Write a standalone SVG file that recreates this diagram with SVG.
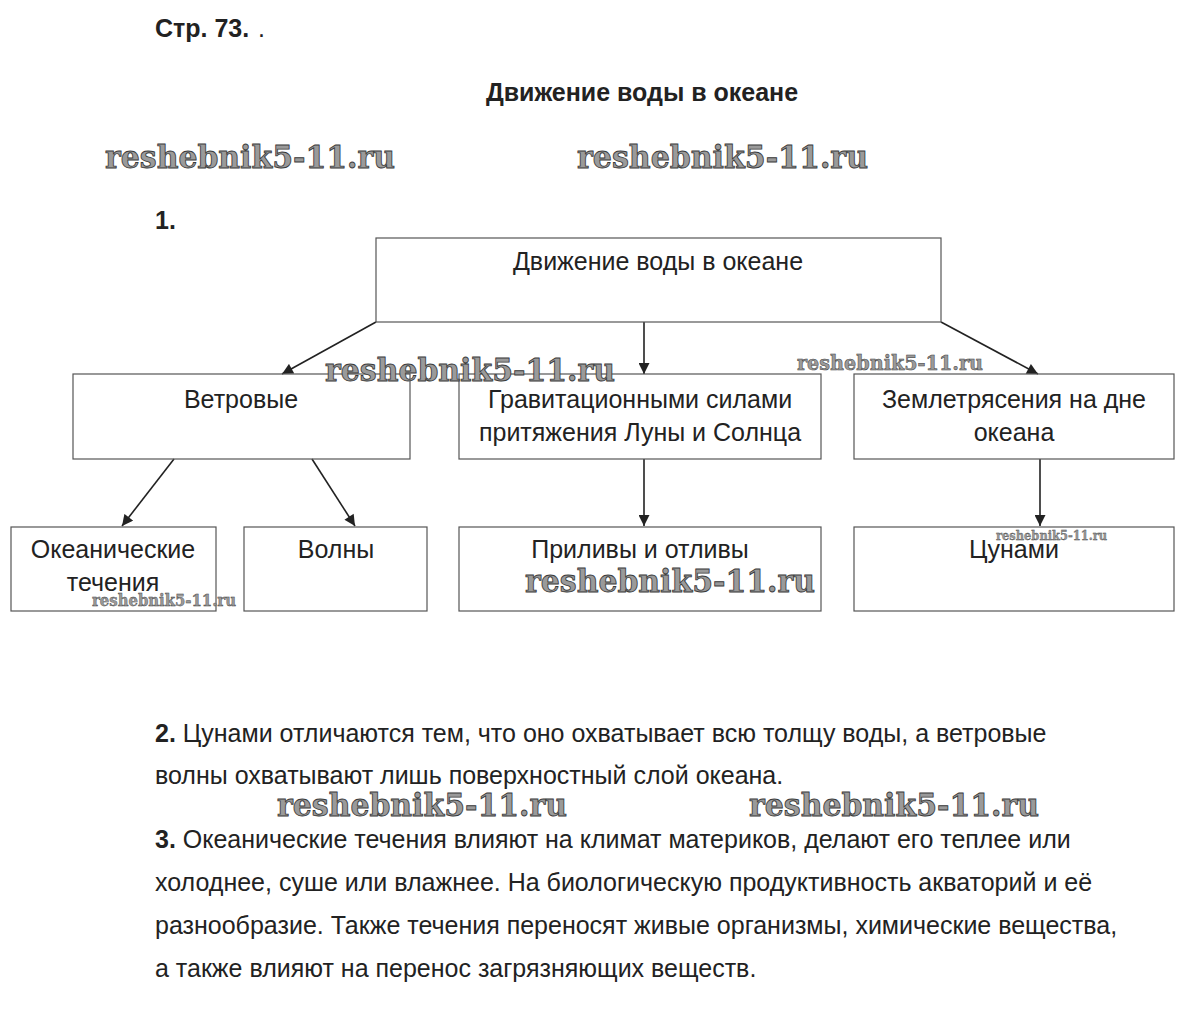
<svg xmlns="http://www.w3.org/2000/svg" width="1191" height="1033" viewBox="0 0 1191 1033">
<style>
.t{font-family:"Liberation Sans",Arial,sans-serif;fill:#222;font-size:25px}
.b{font-weight:bold}
.c{text-anchor:middle}
.box{fill:none;stroke:#555;stroke-width:1.2}
.wm{font-family:"DejaVu Serif",serif;font-weight:bold;fill:#9a9a9a;stroke:#3a3a3a;stroke-width:0.9}
.ln{stroke:#222;stroke-width:1.6;fill:none}
</style>
<defs>
<marker id="ah" viewBox="0 0 10 10" refX="10" refY="5" markerWidth="12" markerHeight="11" orient="auto" markerUnits="userSpaceOnUse">
<path d="M0,0 L10,5 L0,10 z" fill="#222"/>
</marker>
</defs>
<rect width="1191" height="1033" fill="#fff"/>
<text class="t b" x="155" y="37" font-size="24">Стр. 73.</text>
<text class="t" x="258" y="37" fill="#aaa" font-size="14">.</text>
<text class="t b c" x="642" y="101">Движение воды в океане</text>
<text class="t b" x="155" y="229" font-size="24">1.</text>

<g id="connectors">
<line class="ln" x1="376" y1="322" x2="282" y2="374" marker-end="url(#ah)"/>
<line class="ln" x1="644" y1="322" x2="644" y2="374" marker-end="url(#ah)"/>
<line class="ln" x1="941" y1="322" x2="1038" y2="374" marker-end="url(#ah)"/>
<line class="ln" x1="174" y1="459" x2="122" y2="526" marker-end="url(#ah)"/>
<line class="ln" x1="312" y1="459" x2="355" y2="526" marker-end="url(#ah)"/>
<line class="ln" x1="644" y1="459" x2="644" y2="526" marker-end="url(#ah)"/>
<line class="ln" x1="1040" y1="459" x2="1040" y2="526" marker-end="url(#ah)"/>
</g>

<g id="root"><rect class="box" x="376" y="238" width="565" height="84"/><text class="t c" x="658" y="270">Движение воды в океане</text></g>
<g id="wind"><rect class="box" x="73" y="374" width="337" height="85"/><text class="t c" x="241" y="408">Ветровые</text></g>
<g id="grav"><rect class="box" x="459" y="374" width="362" height="85"/><text class="t c" x="640" y="408">Гравитационными силами</text><text class="t c" x="640" y="441">притяжения Луны и Солнца</text></g>
<g id="quake"><rect class="box" x="854" y="374" width="320" height="85"/><text class="t c" x="1014" y="408">Землетрясения на дне</text><text class="t c" x="1014" y="441">океана</text></g>
<g id="currents"><rect class="box" x="11" y="527" width="205" height="84"/><text class="t c" x="113" y="558">Океанические</text><text class="t c" x="113" y="591">течения</text></g>
<g id="waves"><rect class="box" x="244" y="527" width="183" height="84"/><text class="t c" x="336" y="558">Волны</text></g>
<g id="tides"><rect class="box" x="459" y="527" width="362" height="84"/><text class="t c" x="640" y="558">Приливы и отливы</text></g>
<g id="tsunami"><rect class="box" x="854" y="527" width="320" height="84"/><text class="t c" x="1014" y="558">Цунами</text></g>

<text class="t" x="155" y="742"><tspan class="b">2.</tspan> Цунами отличаются тем, что оно охватывает всю толщу воды, а ветровые</text>
<text class="t" x="155" y="784">волны охватывают лишь поверхностный слой океана.</text>
<text class="t" x="155" y="848"><tspan class="b">3.</tspan> Океанические течения влияют на климат материков, делают его теплее или</text>
<text class="t" x="155" y="891">холоднее, суше или влажнее. На биологическую продуктивность акваторий и её</text>
<text class="t" x="155" y="934">разнообразие. Также течения переносят живые организмы, химические вещества,</text>
<text class="t" x="155" y="977">а также влияют на перенос загрязняющих веществ.</text>

<g id="watermarks">
<text class="wm" x="105" y="168" font-size="32" textLength="290" lengthAdjust="spacingAndGlyphs">reshebnik5-11.ru</text>
<text class="wm" x="577" y="168" font-size="32" textLength="291" lengthAdjust="spacingAndGlyphs">reshebnik5-11.ru</text>
<text class="wm" x="325" y="381" font-size="32" textLength="290" lengthAdjust="spacingAndGlyphs">reshebnik5-11.ru</text>
<text class="wm" x="797" y="370" font-size="20" textLength="186" lengthAdjust="spacingAndGlyphs" style="stroke-width:0.5">reshebnik5-11.ru</text>
<text class="wm" x="525" y="592" font-size="32" textLength="290" lengthAdjust="spacingAndGlyphs">reshebnik5-11.ru</text>
<text class="wm" x="92" y="606" font-size="16" textLength="144" lengthAdjust="spacingAndGlyphs" style="stroke-width:0.4">reshebnik5-11.ru</text>
<text class="wm" x="996" y="540" font-size="12" textLength="111" lengthAdjust="spacingAndGlyphs" style="stroke-width:0.3">reshebnik5-11.ru</text>
<text class="wm" x="277" y="816" font-size="32" textLength="290" lengthAdjust="spacingAndGlyphs">reshebnik5-11.ru</text>
<text class="wm" x="749" y="816" font-size="32" textLength="290" lengthAdjust="spacingAndGlyphs">reshebnik5-11.ru</text>
</g>
</svg>
